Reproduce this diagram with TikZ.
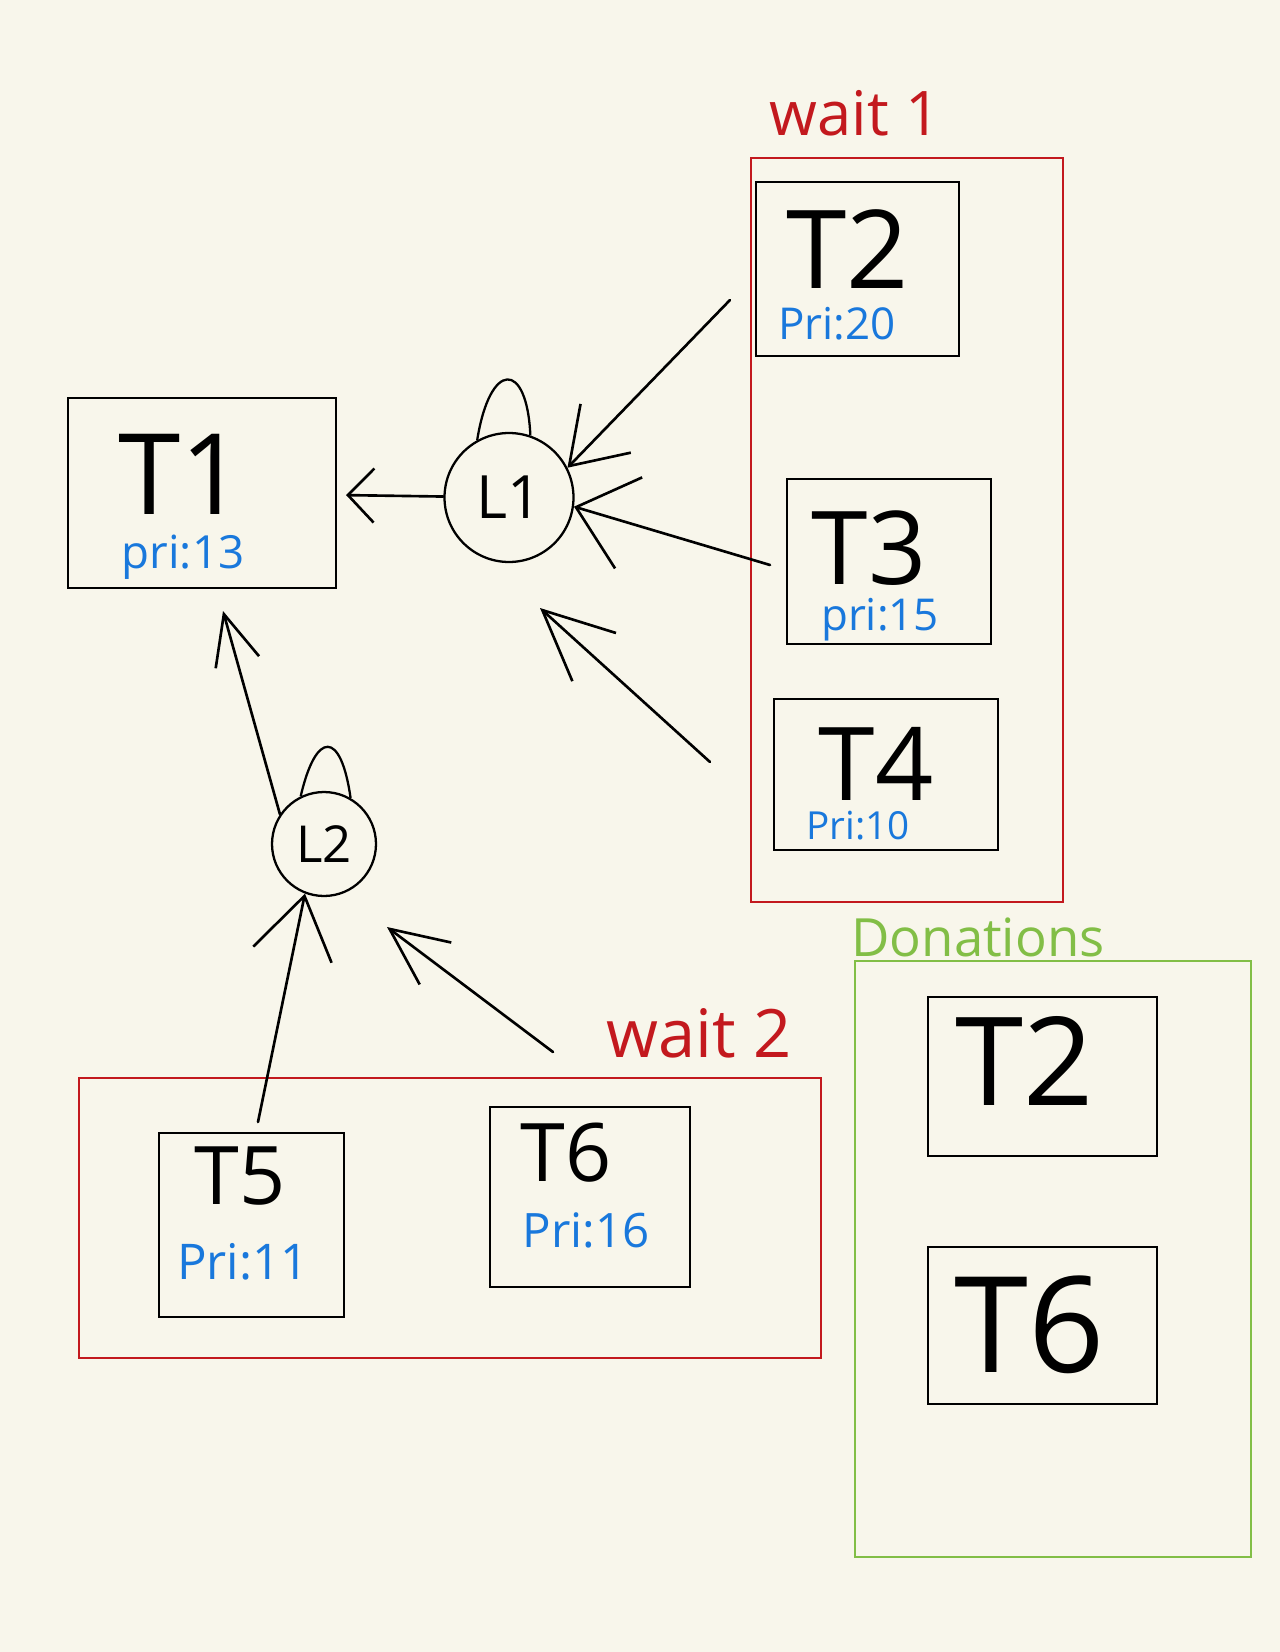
\documentclass[tikz,border=0pt]{standalone}
\usepackage{fontspec}
\setmainfont{Open Sans}
\usepackage{tikz}
\usetikzlibrary{arrows.meta}
\definecolor{paper}{RGB}{248,246,235}
\definecolor{waitred}{RGB}{195,25,30}
\definecolor{dongreen}{RGB}{130,190,70}
\definecolor{priblue}{RGB}{25,120,220}

\begin{document}
\begin{tikzpicture}[
    x=0.02cm, y=-0.02cm,
    task/.style={draw, rectangle, line width=1.3pt, inner sep=0pt},
    lock/.style={draw, circle, line width=1.3pt, inner sep=0pt},
    txt/.style={inner sep=0pt, font=\fontsize{#1}{#1}\selectfont},
    pri/.style={txt=#1, text=priblue},
    waitbox/.style={draw=waitred, line width=0.9pt},
    donbox/.style={draw=dongreen, line width=0.9pt},
    link/.style={line width=1.5pt, line cap=round, -{Straight Barb[length=1.1cm, width=1.5cm]}},
    linksmall/.style={line width=1.5pt, line cap=round, -{Straight Barb[length=0.52cm, width=1.08cm]}},
    shackle/.style={line width=1.3pt},
]
\fill[paper] (0,0) rectangle (1280,1652);
\useasboundingbox (0,0) rectangle (1280,1652);

% groups
\draw[waitbox] (751,158) rectangle (1063,902);
\draw[waitbox] (79,1078) rectangle (821,1358);
\draw[donbox] (855,961) rectangle (1251,1557);
\node[txt=35, text=waitred] (wait1lbl) at (855,113) {wait 1};
\node[txt=38, text=waitred] (wait2lbl) at (699,1033) {wait 2};
\node[txt=30, text=dongreen] (donlbl) at (978,937) {Donations};

% tasks
\node[task, minimum width=5.36cm, minimum height=3.8cm] (t1box) at (202,493) {};
\node[txt=64] (t1) at (182,474) {T1};
\node[pri=26] (t1pri) at (183,557) {pri:13};

\node[task, minimum width=4.06cm, minimum height=3.48cm] (t2box) at (857.5,269) {};
\node[txt=62] (t2) at (848,249) {T2};
\node[pri=25] (t2pri) at (837,324) {Pri:20};

\node[task, minimum width=4.08cm, minimum height=3.3cm] (t3box) at (889,561.5) {};
\node[txt=58] (t3) at (869,548) {T3};
\node[pri=25] (t3pri) at (880,620) {pri:15};

\node[task, minimum width=4.48cm, minimum height=3.02cm] (t4box) at (886,774.5) {};
\node[txt=58] (t4) at (876,764) {T4};
\node[pri=22] (t4pri) at (858,826) {Pri:10};

\node[task, minimum width=3.7cm, minimum height=3.68cm] (t5box) at (251.5,1225) {};
\node[txt=46] (t5) at (240,1176) {T5};
\node[pri=28] (t5pri) at (243,1262) {Pri:11};

\node[task, minimum width=4.0cm, minimum height=3.6cm] (t6box) at (590,1197) {};
\node[txt=46] (t6) at (566,1153) {T6};
\node[pri=27] (t6pri) at (586,1230) {Pri:16};

\node[task, minimum width=4.58cm, minimum height=3.18cm] (dt2box) at (1042.5,1076.5) {};
\node[txt=70] (dt2) at (1025,1061) {T2};
\node[task, minimum width=4.58cm, minimum height=3.14cm] (dt6box) at (1042.5,1325.5) {};
\node[txt=76] (dt6) at (1030,1325) {T6};

% locks
\node[lock, minimum size=2.58cm, font=\fontsize{34}{34}\selectfont] (l1) at (509,497.5) {L1};
\node[lock, minimum size=2.08cm, font=\fontsize{29}{29}\selectfont] (l2) at (324,844) {L2};
\draw[shackle] (l1.119) .. controls (490,360) and (527,360) .. (l1.71);
\draw[shackle] (l2.116) .. controls (316,730) and (341,730) .. (l2.60);

% waits and holds
\coordinate (t2tail) at (730,300);
\coordinate (t3tail) at (770,565);
\coordinate (t4tail) at (710,762);
\coordinate (t4tip) at (540,608);
\coordinate (t1tip) at (223,611);
\coordinate (t5tail) at (258,1122);
\coordinate (t6tail) at (553,1052);
\coordinate (t6tip) at (387,927);

\draw[linksmall, shorten >=0.18cm] (l1) -- (t1box);
\draw[link, -{Straight Barb[length=1.05cm, width=1.4cm]}] (t2tail) -- (l1.27);
\draw[link, -{Straight Barb[length=1.1cm, width=1.9cm]}] (t3tail) -- (l1.-8);
\draw[link, -{Straight Barb[length=1.4cm, width=1.3cm]}] (t4tail) -- (t4tip);
\draw[link, -{Straight Barb[length=1.0cm, width=0.9cm]}] (l2.146) -- (t1tip);
\draw[link, -{Straight Barb[length=1.2cm, width=1.6cm]}] (t5tail) -- (l2.-111);
\draw[link, -{Straight Barb[length=1.15cm, width=1.05cm]}] (t6tail) -- (t6tip);
\end{tikzpicture}
\end{document}
